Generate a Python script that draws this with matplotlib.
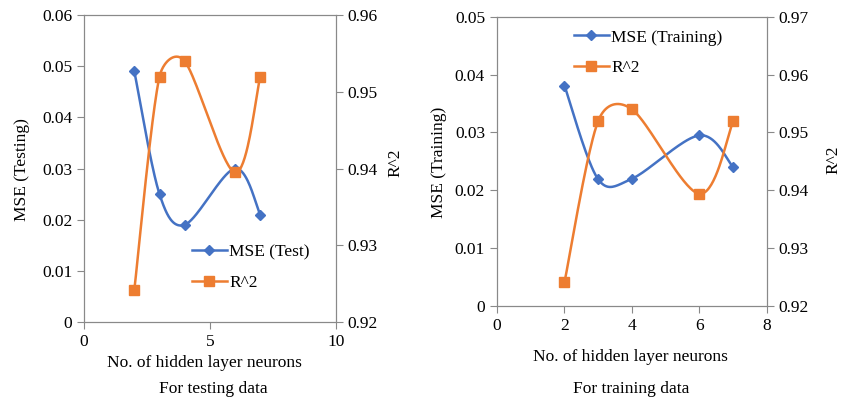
import numpy as np
import matplotlib
matplotlib.use("Agg")
import matplotlib.pyplot as plt
from matplotlib.lines import Line2D

plt.rcParams['font.family'] = ['Liberation Serif', 'DejaVu Serif']
plt.rcParams['font.size'] = 12.5

neurons = [2, 3, 4, 6, 7]
mse_test = [0.049, 0.025, 0.019, 0.030, 0.021]
r2_test = [0.9242, 0.9520, 0.9540, 0.9395, 0.9520]
mse_train = [0.0381, 0.0219, 0.0220, 0.0295, 0.0240]
r2_train = [0.9241, 0.9520, 0.9540, 0.9394, 0.9520]

BLUE = '#4472C4'
ORANGE = '#ED7D31'
GRAY = '#898989'
W, H = 848, 399


def smooth(ax, x, y, n=40):
    # Excel-like smoothed line, computed in pixel space, then back to data
    x0, x1 = ax.get_xlim()
    y0, y1 = ax.get_ylim()
    bb = ax.get_position()
    sx, sy = bb.width * W, bb.height * H
    p = np.column_stack([(np.array(x) - x0) / (x1 - x0) * sx,
                         (np.array(y) - y0) / (y1 - y0) * sy])
    pts = np.vstack([p[0], p, p[-1]])
    t = np.linspace(0, 1, n)[:, None]
    out = []
    for i in range(1, len(pts) - 2):
        p0, p1, p2, p3 = pts[i - 1], pts[i], pts[i + 1], pts[i + 2]
        d02 = np.hypot(*(p2 - p0))
        d13 = np.hypot(*(p3 - p1))
        d12 = np.hypot(*(p2 - p1))
        f0 = 1 / 6 if d02 / 6 < d12 / 2 else d12 / (2 * d02)
        f3 = 1 / 6 if d13 / 6 < d12 / 2 else d12 / (2 * d13)
        c1 = p1 + (p2 - p0) * f0
        c2 = p2 - (p3 - p1) * f3
        seg = ((1 - t) ** 3) * p1 + 3 * ((1 - t) ** 2) * t * c1 + 3 * (1 - t) * t ** 2 * c2 + t ** 3 * p2
        out.append(seg)
    s = np.vstack(out)
    return s[:, 0] / sx * (x1 - x0) + x0, s[:, 1] / sy * (y1 - y0) + y0


def style(ax):
    for sp in ax.spines.values():
        sp.set_color(GRAY)
    ax.tick_params(colors='black', length=5, color=GRAY, labelsize=12.5)


def panel(rect, x, mse, r2, xlim, xticks, ylim1, yt1, ylim2, yt2, mse_lab, ylab, leg_xy):
    ax = fig.add_axes(rect)
    ax2 = ax.twinx()
    ax.set_xlim(*xlim)
    ax.set_xticks(xticks)
    ax.set_ylim(*ylim1)
    ax.set_yticks(yt1)
    ax.set_yticklabels(['0'] + ['%.2f' % v for v in yt1[1:]])
    ax2.set_ylim(*ylim2)
    ax2.set_yticks(yt2)
    ax2.set_yticklabels(['%.2f' % v for v in yt2])
    sx, sy = smooth(ax, x, mse)
    ax.plot(sx, sy, color=BLUE, lw=1.8)
    ax.plot(x, mse, ls='none', marker='D', ms=5.5, color=BLUE)
    rx, ry = smooth(ax2, x, r2)
    ax2.plot(rx, ry, color=ORANGE, lw=1.8)
    ax2.plot(x, r2, ls='none', marker='s', ms=7, color=ORANGE)
    style(ax)
    style(ax2)
    handles = [Line2D([], [], color=BLUE, lw=1.8, marker='D', ms=5.5),
               Line2D([], [], color=ORANGE, lw=1.8, marker='s', ms=7)]
    fig.legend(handles, [mse_lab, 'R^2'], loc='center left', bbox_to_anchor=leg_xy,
               bbox_transform=fig.transFigure, frameon=False, borderpad=0, borderaxespad=0,
               fontsize=12.5, handlelength=2.0, handletextpad=0.15, labelspacing=0.8)
    return ax, ax2


fig = plt.figure(figsize=(8.48, 3.99), dpi=100)

panel([0.099, 0.193, 0.297, 0.769], neurons, mse_test, r2_test, (0, 10), [0, 5, 10],
      (0, 0.06), [0, 0.01, 0.02, 0.03, 0.04, 0.05, 0.06],
      (0.92, 0.96), [0.92, 0.93, 0.94, 0.95, 0.96],
      'MSE (Test)', 'MSE (Testing)', (192 / W, 1 - 267.5 / H))

panel([0.586, 0.233, 0.3185, 0.725], neurons, mse_train, r2_train, (0, 8), [0, 2, 4, 6, 8],
      (0, 0.05), [0, 0.01, 0.02, 0.03, 0.04, 0.05],
      (0.92, 0.97), [0.92, 0.93, 0.94, 0.95, 0.96, 0.97],
      'MSE (Training)', 'MSE (Training)', (574 / W, 1 - 52.5 / H))


def ftext(px, py, s, rot=0):
    fig.text(px / W, 1 - py / H, s, ha='center', va='center', rotation=rot, fontsize=12.5)


ftext(204, 363, 'No. of hidden layer neurons')
ftext(213, 389, 'For testing data')
ftext(22, 170, 'MSE (Testing)', 90)
ftext(395, 163, 'R^2', 90)
ftext(630, 357, 'No. of hidden layer neurons')
ftext(631, 389, 'For training data')
ftext(439, 162, 'MSE (Training)', 90)
ftext(833, 160, 'R^2', 90)

fig.savefig('out.png', dpi=100)
